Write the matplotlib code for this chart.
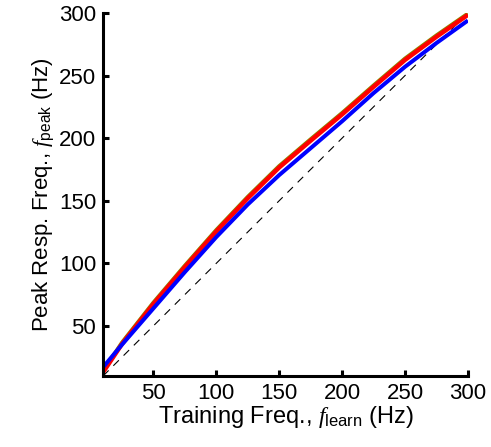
import matplotlib
matplotlib.use("Agg")
import matplotlib.pyplot as plt

plt.rcParams['font.family'] = ['Liberation Sans', 'DejaVu Sans']
plt.rcParams['mathtext.fontset'] = 'custom'
plt.rcParams['mathtext.it'] = 'Liberation Serif:italic'
plt.rcParams['mathtext.rm'] = 'Liberation Sans'
plt.rcParams['mathtext.sf'] = 'Liberation Sans'

# values
f_learn = [10, 25, 50, 75, 100, 125, 150, 175, 200, 225, 250, 275, 300]
peak_red = [13, 35.5, 67.5, 97, 125.5, 152, 176.6, 198, 219, 241, 262.5, 281, 298.5]
peak_olive = [13.8, 36.5, 68.5, 98, 126.5, 153, 177.6, 199, 220, 242, 263.5, 282, 299.4]
peak_blue = [17, 35, 64, 93, 121, 147, 170.5, 192, 213.5, 236, 257, 276, 294]
diag = [10, 300]

fig = plt.figure(figsize=(4.91, 4.47), dpi=100)
ax = fig.add_axes([0.21, 0.159, 0.743, 0.812])

ax.plot(diag, diag, color='black', lw=0.8, ls=(0, (7, 6)))
ax.plot(f_learn, peak_olive, color='#8a8a00', lw=3.0, solid_capstyle='butt')
ax.plot(f_learn, peak_red, color='#ff0000', lw=3.2, solid_capstyle='butt')
ax.plot(f_learn, peak_blue, color='#0000ff', lw=2.9, solid_capstyle='butt')

ax.set_xlim(10, 300)
ax.set_ylim(10, 300)
ax.set_xticks([50, 100, 150, 200, 250, 300])
ax.set_yticks([50, 100, 150, 200, 250, 300])

for s in ['top', 'right']:
    ax.spines[s].set_visible(False)
for s in ['left', 'bottom']:
    ax.spines[s].set_linewidth(2.2)

ax.tick_params(direction='in', length=4, width=2.2, labelsize=16, pad=5)

ax.set_xlabel(r'Training Freq., $\mathit{f}_{\mathrm{learn}}$ (Hz)', fontsize=17, labelpad=0)
ax.set_ylabel(r'Peak Resp. Freq., $\mathit{f}_{\mathrm{peak}}$ (Hz)', fontsize=16, labelpad=2)

fig.savefig('out.png', dpi=100)
